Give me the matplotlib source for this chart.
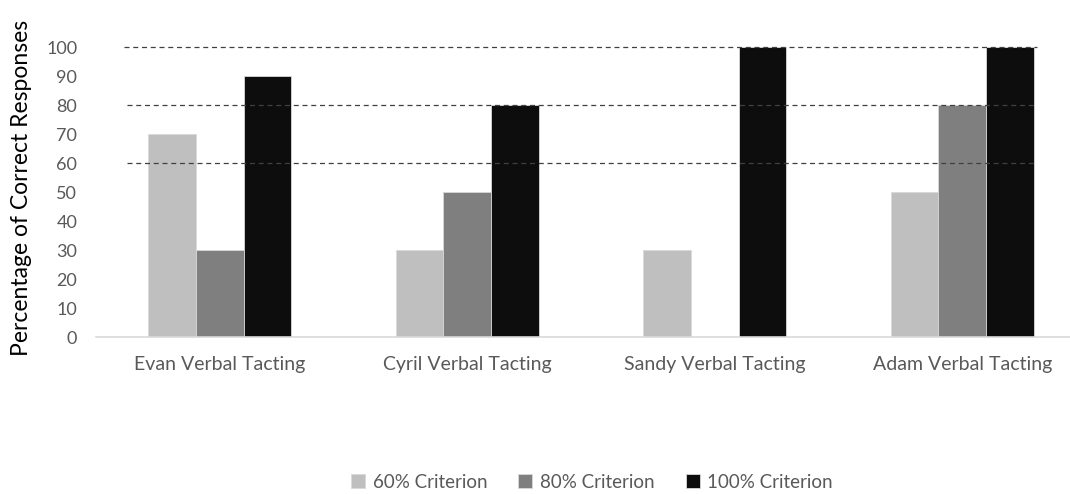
import matplotlib.pyplot as plt
import numpy as np

categories = ["Evan Verbal Tacting", "Cyril Verbal Tacting", "Sandy Verbal Tacting", "Adam Verbal Tacting"]
series_names = ["60% Criterion", "80% Criterion", "100% Criterion"]
crit60 = [70, 30, 30, 50]
crit80 = [30, 50, 0, 80]
crit100 = [90, 80, 100, 100]
criterion_lines = [60, 80, 100]
yticks = list(range(0, 101, 10))

colors = ["#BFBFBF", "#7F7F7F", "#0D0D0D"]
plt.rcParams['font.family'] = ['Lato', 'DejaVu Sans']

fig = plt.figure(figsize=(10.7, 4.94), dpi=100)
W, H = 1070, 494
left, right = 96, 1086
top, bottom = 47, 337
ax = fig.add_axes([left / W, 1 - bottom / H, (right - left) / W, (bottom - top) / H])

x = np.arange(len(categories))
bw = 0.192
for i, vals in enumerate([crit60, crit80, crit100]):
    ax.bar(x + (i - 1) * bw, vals, width=bw, color=colors[i], edgecolor="#D9D9D9",
           linewidth=0.6, label=series_names[i], zorder=2)

for v in criterion_lines:
    x0 = -0.387 if v == 100 else -0.375
    x1 = 3.30 if v == 100 else 3.29
    ax.plot([x0, x1], [v, v], linestyle=(0, (4, 3)), color="#404040", linewidth=0.9, zorder=3,
            clip_on=False)

ax.set_xlim(-0.5, 3.5)
ax.set_ylim(0, 100)
ax.set_xticks(x)
ax.set_xticklabels(categories, fontsize=14, color="#595959")
ax.set_yticks(yticks)
ax.set_yticklabels([str(t) for t in yticks], fontsize=13, color="#595959")
ax.tick_params(axis='y', length=0, pad=13.5)
ax.tick_params(axis='x', length=0, pad=14)
for s in ["top", "right", "left"]:
    ax.spines[s].set_visible(False)
ax.spines["bottom"].set_color("#D9D9D9")
ax.spines["bottom"].set_linewidth(1.2)

fig.text(22 / W, 1 - 188 / H, "Percentage of Correct Responses", rotation=90,
         ha="center", va="center", fontsize=16.5, color="#000000")

handles, labels = ax.get_legend_handles_labels()
fig.legend(handles, labels, loc="center", bbox_to_anchor=(592 / W, 1 - 482 / H), ncol=3,
           frameon=False, fontsize=13.5, handlelength=0.75, handleheight=0.75,
           handletextpad=0.4, columnspacing=1.65, labelcolor="#595959")

fig.savefig("out.png", dpi=100)
